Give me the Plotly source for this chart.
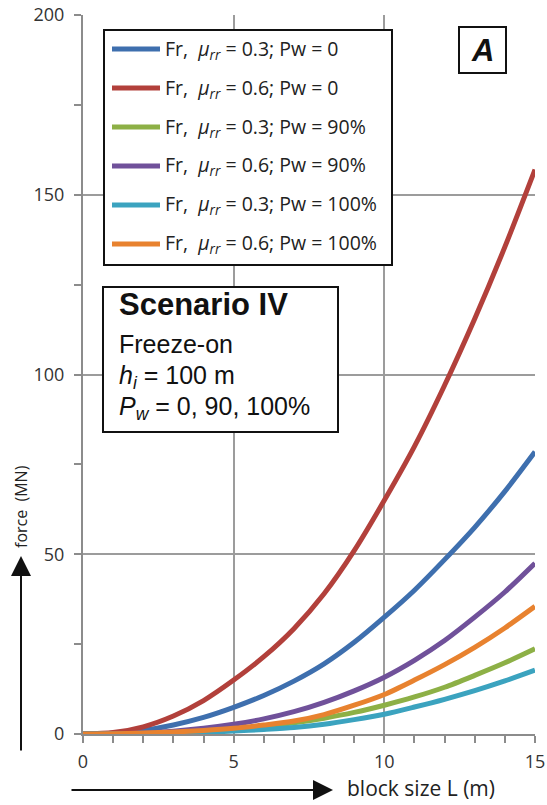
import plotly.graph_objects as go

# ---- data ----
block_size = [0, 1, 2, 3, 4, 5, 6, 7, 8, 9, 10, 11, 12, 13, 14, 15]

fr_03_pw0 = [0, 0.2, 1.0, 2.5, 4.6, 7.4, 10.7, 14.7, 19.5, 25.5, 32.5, 40.0, 48.5, 57.5, 67.5, 78.5]
fr_06_pw0 = [0, 0.4, 2.0, 5.0, 9.3, 15.0, 21.5, 29.3, 39.0, 51.0, 65.0, 80.0, 97.0, 115.5, 135.5, 157.0]
fr_03_pw90 = [0, 0.02, 0.15, 0.4, 0.8, 1.35, 2.1, 3.1, 4.4, 6.0, 8.0, 10.3, 13.0, 16.3, 19.8, 23.7]
fr_06_pw90 = [0, 0.05, 0.3, 0.8, 1.6, 2.7, 4.2, 6.2, 8.8, 12.0, 15.8, 20.5, 26.0, 32.5, 39.5, 47.5]
fr_03_pw100 = [0, 0.02, 0.12, 0.28, 0.5, 0.8, 1.25, 1.8, 2.7, 4.0, 5.5, 7.5, 9.65, 12.05, 14.75, 17.75]
fr_06_pw100 = [0, 0.05, 0.25, 0.55, 1.0, 1.6, 2.5, 3.6, 5.4, 8.0, 11.0, 15.0, 19.3, 24.1, 29.5, 35.5]

series_names = [
    "Fr,  <i>μ<sub>rr</sub></i> = 0.3; Pw = 0",
    "Fr,  <i>μ<sub>rr</sub></i> = 0.6; Pw = 0",
    "Fr,  <i>μ<sub>rr</sub></i> = 0.3; Pw = 90%",
    "Fr,  <i>μ<sub>rr</sub></i> = 0.6; Pw = 90%",
    "Fr,  <i>μ<sub>rr</sub></i> = 0.3; Pw = 100%",
    "Fr,  <i>μ<sub>rr</sub></i> = 0.6; Pw = 100%",
]
series_values = [fr_03_pw0, fr_06_pw0, fr_03_pw90, fr_06_pw90, fr_03_pw100, fr_06_pw100]
series_colors = ["#3E6FAE", "#B2403B", "#8DB046", "#70519A", "#3BA3BF", "#E8822F"]

x_ticks = [0, 5, 10, 15]
y_ticks = [0, 50, 100, 150, 200]

# ---- layout geometry (pixels) ----
W, H = 547, 805
L, R, T, B = 83, 12, 15, 71
PW, PH = W - L - R, H - T - B


def px(xp):
    return (xp - L) / PW


def py(yp):
    return (H - B - yp) / PH


fig = go.Figure()
for i, (name, vals, col) in enumerate(zip(series_names, series_values, series_colors)):
    fig.add_trace(go.Scatter(
        x=block_size, y=vals, mode="lines", name=name,
        line=dict(color=col, width=5, shape="spline", smoothing=0.8),
        showlegend=False,
    ))

tick_font = dict(family="Open Sans", size=18, color="#333333")
fig.update_xaxes(
    range=[0, 15], tickvals=x_ticks, showgrid=True, gridcolor="#9C9C9C", gridwidth=1.6,
    showline=True, linecolor="#8C8C8C", linewidth=2, ticks="outside", ticklen=7,
    tickcolor="#8C8C8C", tickwidth=2, tickfont=tick_font, zeroline=False,
    ticklabelstandoff=3, automargin=False,
    minor=dict(dtick=1, ticks="outside", ticklen=7, tickcolor="#8C8C8C", tickwidth=2, showgrid=False),
)
fig.update_yaxes(
    range=[0, 200], tickvals=y_ticks, showgrid=True, gridcolor="#9C9C9C", gridwidth=1.6,
    showline=True, linecolor="#8C8C8C", linewidth=2, ticks="outside", ticklen=7,
    tickcolor="#8C8C8C", tickwidth=2, tickfont=tick_font, zeroline=False,
    ticklabelstandoff=6, automargin=False,
    minor=dict(dtick=25, ticks="outside", ticklen=7, tickcolor="#8C8C8C", tickwidth=2, showgrid=False),
)

shapes = [
    # legend box
    dict(type="rect", xref="paper", yref="paper", x0=px(104), x1=px(392), y0=py(265), y1=py(30),
         line=dict(color="#111111", width=2), fillcolor="white", layer="above"),
    # Scenario box
    dict(type="rect", xref="paper", yref="paper", x0=px(103), x1=px(338), y0=py(432), y1=py(287),
         line=dict(color="#111111", width=2), fillcolor="white", layer="above"),
    # "A" box
    dict(type="rect", xref="paper", yref="paper", x0=px(459), x1=px(506), y0=py(73), y1=py(27),
         line=dict(color="#111111", width=2), fillcolor="white", layer="above"),
]

txt = dict(family="Liberation Sans, Arial", color="#111111")
annotations = []

# legend entries (key line + label)
legend_rows = [49, 88, 127, 166, 205, 244]
for name, col, yr in zip(series_names, series_colors, legend_rows):
    shapes.append(dict(type="line", xref="paper", yref="paper", x0=px(112), x1=px(160),
                       y0=py(yr), y1=py(yr), line=dict(color=col, width=5), layer="above"))
    annotations.append(dict(text=name, x=px(163), y=py(yr), xref="paper", yref="paper",
                            xanchor="left", yanchor="middle", showarrow=False,
                            font=dict(family="Open Sans", size=19.5, color="#222222")))

annotations += [
    dict(text="<b>Scenario IV</b>", x=px(117), y=py(304), xref="paper", yref="paper",
         xanchor="left", yanchor="middle", showarrow=False, font=dict(size=31, **txt)),
    dict(text="Freeze-on", x=px(117), y=py(344), xref="paper", yref="paper",
         xanchor="left", yanchor="middle", showarrow=False, font=dict(size=25, **txt)),
    dict(text="<i>h<sub>i</sub></i> = 100 m", x=px(117), y=py(377), xref="paper", yref="paper",
         xanchor="left", yanchor="middle", showarrow=False, font=dict(size=25, **txt)),
    dict(text="<i>P<sub>w</sub></i> = 0, 90, 100%", x=px(117), y=py(408), xref="paper", yref="paper",
         xanchor="left", yanchor="middle", showarrow=False, font=dict(size=25, **txt)),
    dict(text="<b><i>A</i></b>", x=px(482.5), y=py(50), xref="paper", yref="paper",
         xanchor="center", yanchor="middle", showarrow=False, font=dict(size=31, **txt)),
    # axis titles
    dict(text="block size L (m)", x=px(345), y=py(788), xref="paper", yref="paper",
         xanchor="left", yanchor="middle", showarrow=False,
         font=dict(family="Open Sans", size=21, color="#222222")),
    dict(text="force  (MN)", x=px(21), y=py(507), xref="paper", yref="paper",
         xanchor="center", yanchor="middle", showarrow=False, textangle=-90,
         font=dict(family="Open Sans", size=16, color="#222222")),
    # arrows
    dict(text="", x=px(333), y=py(790), xref="paper", yref="paper", showarrow=True,
         ax=70 - 333, ay=0, arrowhead=2, arrowsize=2, arrowwidth=2, arrowcolor="#111111"),
    dict(text="", x=px(21), y=py(556), xref="paper", yref="paper", showarrow=True,
         ax=0, ay=752 - 556, arrowhead=2, arrowsize=2, arrowwidth=2, arrowcolor="#111111"),
]

fig.update_layout(
    width=W, height=H,
    margin=dict(l=L, r=R, t=T, b=B),
    paper_bgcolor="white", plot_bgcolor="white",
    shapes=shapes, annotations=annotations,
    showlegend=False,
)

fig.write_html("out.html")
